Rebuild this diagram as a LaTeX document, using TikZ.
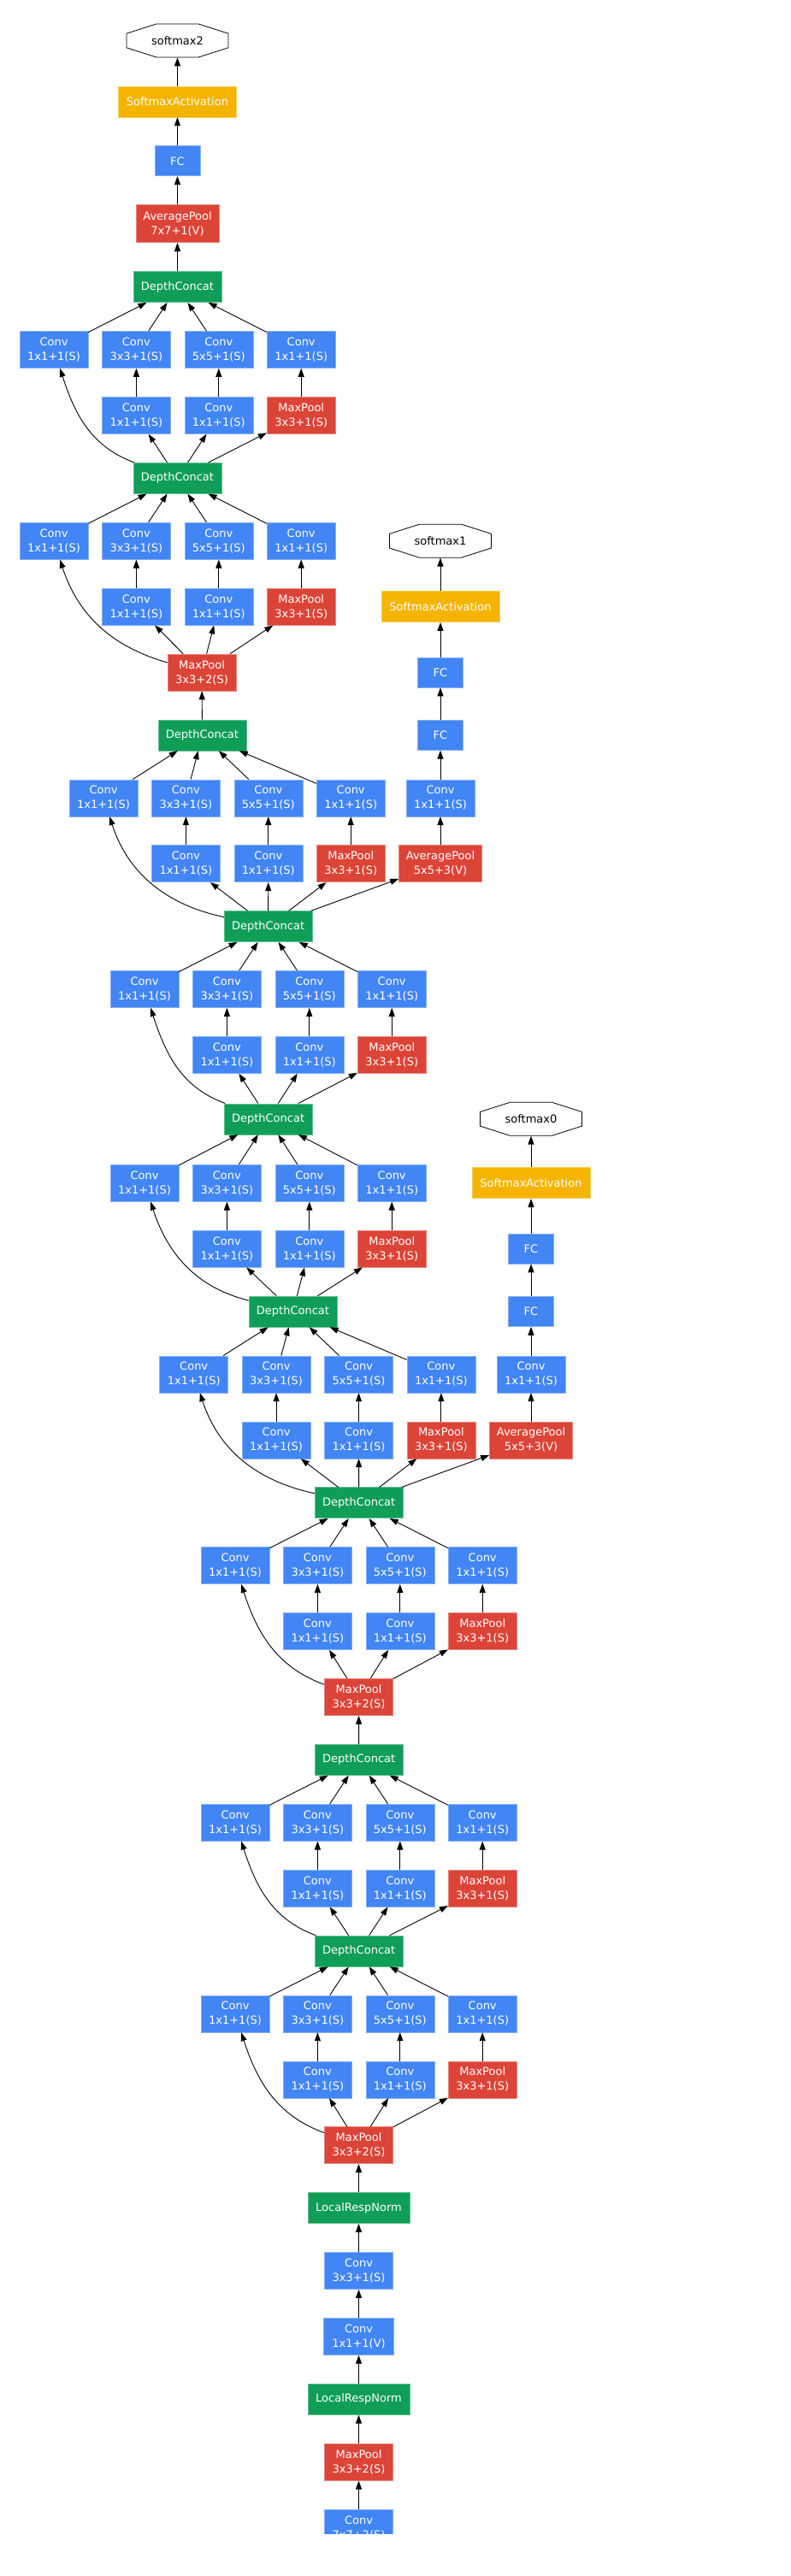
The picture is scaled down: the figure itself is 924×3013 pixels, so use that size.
\documentclass[tikz,border=0pt]{standalone}
\usepackage{fontspec}
\setmainfont{DejaVu Sans}
\usepackage{xcolor}
\usetikzlibrary{arrows.meta}
\definecolor{gblue}{HTML}{4285F4}
\definecolor{gred}{HTML}{DB4437}
\definecolor{gyellow}{HTML}{F4B400}
\definecolor{ggreen}{HTML}{0F9D58}

\tikzset{
	netbox/.style={font=\fontsize{13}{17}\selectfont, text=white, align=center, inner sep=0pt, line width=0.6pt, minimum width=80pt, minimum height=43pt},
	convbox/.style={netbox, fill=gblue, draw=gblue!65!white},
	poolbox/.style={netbox, fill=gred, draw=gred!65!white},
	concatbox/.style={netbox, fill=ggreen, draw=ggreen!65!white, minimum width=103pt, minimum height=36pt},
	actbox/.style={netbox, fill=gyellow, draw=gyellow!65!white, minimum width=138pt, minimum height=36pt},
	fcbox/.style={netbox, fill=gblue, draw=gblue!65!white, minimum width=53pt, minimum height=35pt},
	outbox/.style={netbox, text=black, minimum width=119pt, minimum height=39pt},
	link/.style={draw=black, line width=0.9pt, -{Triangle[length=10pt,width=7pt]}},
}

\newcommand{\inception}[6]{%
	\node[convbox] (#1a) at (#4,-#5) {Conv\\1x1+1(S)};
	\node[convbox] (#1b) at (#4+96.4,-#5) {Conv\\3x3+1(S)};
	\node[convbox] (#1c) at (#4+192.8,-#5) {Conv\\5x5+1(S)};
	\node[convbox] (#1d) at (#4+289.2,-#5) {Conv\\1x1+1(S)};
	\node[convbox] (#1e) at (#4+96.4,-#5-76.9) {Conv\\1x1+1(S)};
	\node[convbox] (#1f) at (#4+192.8,-#5-76.9) {Conv\\1x1+1(S)};
	\node[poolbox] (#1g) at (#4+289.2,-#5-76.9) {MaxPool\\3x3+1(S)};
	\draw[link] (#2) to[out=#6,in=-72] (#1a);
	\draw[link] (#2) -- (#1e);
	\draw[link] (#2) -- (#1f);
	\draw[link] (#2) -- (#1g);
	\draw[link] (#1e) -- (#1b);
	\draw[link] (#1f) -- (#1c);
	\draw[link] (#1g) -- (#1d);
	\foreach \b in {a,b,c,d} \draw[link] (#1\b) -- (#3);
}

\newcommand{\octagon}[1]{%
	\draw[black, line width=0.8pt, shift={(#1.center)}] (-24.5,19.5) -- (24.5,19.5) -- (59.5,8.3) -- (59.5,-8.3) -- (24.5,-19.5) -- (-24.5,-19.5) -- (-59.5,-8.3) -- (-59.5,8.3) -- cycle;
}

\begin{document}
\begin{tikzpicture}[x=1pt, y=1pt]
		\useasboundingbox (0,0) rectangle (924,-3013);
		\clip (0,0) rectangle (924,-2963);

		\node[outbox] (sm2) at (207.5,-47.5) {softmax2};
		\octagon{sm2}
		\node[actbox] (act2) at (207.5,-118.9) {SoftmaxActivation};
		\node[fcbox] (fc2) at (207.5,-188.3) {FC};
		\node[poolbox, minimum width=97pt, minimum height=44pt] (avg2) at (207.5,-261.7) {AveragePool\\7x7+1(V)};

		\node[concatbox] (dc5b) at (207.5,-335.6) {DepthConcat};
		\node[concatbox] (dc5a) at (207.5,-559.3) {DepthConcat};
		\node[poolbox] (pool4) at (236,-786.5) {MaxPool\\3x3+2(S)};
		\node[concatbox] (dc4e) at (236.5,-859.9) {DepthConcat};
		\node[concatbox] (dc4d) at (313.6,-1083.6) {DepthConcat};
		\node[concatbox] (dc4c) at (313.6,-1308.8) {DepthConcat};
		\node[concatbox] (dc4b) at (342.5,-1534.0) {DepthConcat};
		\node[concatbox] (dc4a) at (419.7,-1757.7) {DepthConcat};
		\node[poolbox] (pool3) at (419.5,-1984.9) {MaxPool\\3x3+2(S)};
		\node[concatbox] (dc3b) at (419.7,-2058.3) {DepthConcat};
		\node[concatbox] (dc3a) at (419.7,-2282.0) {DepthConcat};
		\node[poolbox] (pool2) at (419.5,-2509.2) {MaxPool\\3x3+2(S)};
		\node[concatbox, minimum width=118.7pt] (norm2) at (419.5,-2582.6) {LocalRespNorm};
		\node[convbox] (conv2b) at (419.5,-2656.0) {Conv\\3x3+1(S)};
		\node[convbox, minimum width=82pt] (conv2a) at (419.5,-2732.9) {Conv\\1x1+1(V)};
		\node[concatbox, minimum width=118.7pt] (norm1) at (419.5,-2806.3) {LocalRespNorm};
		\node[poolbox] (pool1) at (419.5,-2879.7) {MaxPool\\3x3+2(S)};
		\node[convbox] (conv1) at (419.5,-2956.6) {Conv\\7x7+2(S)};

		\node[outbox] (sm1) at (515,-632.7) {softmax1};
		\octagon{sm1}
		\node[actbox] (act1) at (515,-709.6) {SoftmaxActivation};
		\node[fcbox] (fc1b) at (515,-786.5) {FC};
		\node[fcbox] (fc1a) at (515,-859.9) {FC};
		\node[convbox] (aux1) at (515,-933.3) {Conv\\1x1+1(S)};
		\node[poolbox, minimum width=97pt] (avg1) at (515,-1010.2) {AveragePool\\5x5+3(V)};

		\node[outbox] (sm0) at (621,-1308.8) {softmax0};
		\octagon{sm0}
		\node[actbox] (act0) at (621,-1383.7) {SoftmaxActivation};
		\node[fcbox] (fc0b) at (621,-1460.6) {FC};
		\node[fcbox] (fc0a) at (621,-1534.0) {FC};
		\node[convbox] (aux0) at (621,-1607.4) {Conv\\1x1+1(S)};
		\node[poolbox, minimum width=97pt] (avg0) at (621,-1684.3) {AveragePool\\5x5+3(V)};

		\inception{i5b}{dc5a}{dc5b}{63}{409.0}{160}
		\inception{i5a}{pool4}{dc5a}{63}{632.7}{164}
		\inception{i4e}{dc4d}{dc4e}{121}{933.3}{168}
		\inception{i4d}{dc4c}{dc4d}{169}{1157.0}{160}
		\inception{i4c}{dc4b}{dc4c}{169}{1383.7}{166}
		\inception{i4b}{dc4a}{dc4b}{226.7}{1607.4}{168}
		\inception{i4a}{pool3}{dc4a}{275}{1831.1}{160}
		\inception{i3b}{dc3a}{dc3b}{275}{2131.7}{160}
		\inception{i3a}{pool2}{dc3a}{275}{2355.4}{160}

		\draw[link] (dc5b) -- (avg2);
		\draw[link] (avg2) -- (fc2);
		\draw[link] (fc2) -- (act2);
		\draw[link] (act2) -- (sm2);
		\draw[link] (dc4e) -- (pool4);
		\draw[link] (dc3b) -- (pool3);
		\draw[link] (norm2) -- (pool2);
		\draw[link] (conv2b) -- (norm2);
		\draw[link] (conv2a) -- (conv2b);
		\draw[link] (norm1) -- (conv2a);
		\draw[link] (pool1) -- (norm1);
		\draw[link] (conv1) -- (pool1);

		\draw[link] (dc4d) -- (avg1);
		\draw[link] (avg1) -- (aux1);
		\draw[link] (aux1) -- (fc1a);
		\draw[link] (fc1a) -- (fc1b);
		\draw[link] (fc1b) -- (act1);
		\draw[link] (act1) -- (sm1);

		\draw[link] (dc4a) -- (avg0);
		\draw[link] (avg0) -- (aux0);
		\draw[link] (aux0) -- (fc0a);
		\draw[link] (fc0a) -- (fc0b);
		\draw[link] (fc0b) -- (act0);
		\draw[link] (act0) -- (sm0);
	\end{tikzpicture}
\end{document}
